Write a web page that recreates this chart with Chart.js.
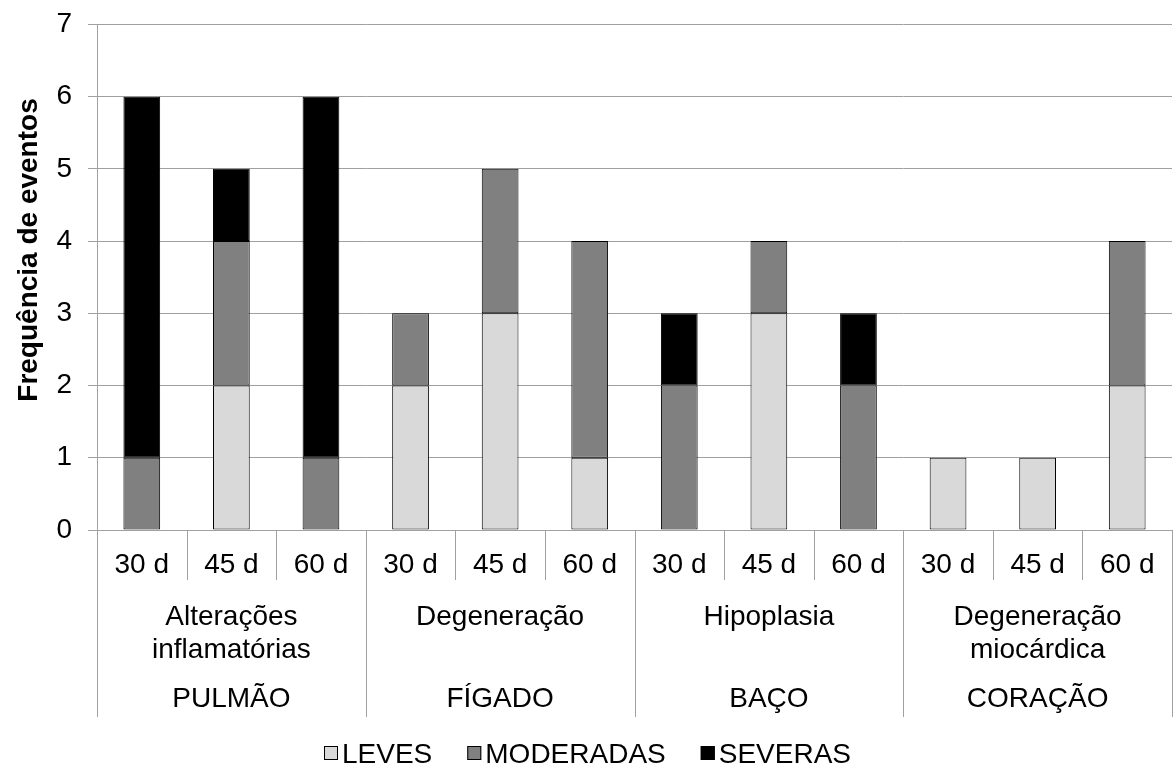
<!DOCTYPE html>
<html>
<head>
<meta charset="utf-8">
<script src="https://cdn.jsdelivr.net/npm/chart.js@4/dist/chart.umd.min.js"></script>
<style>
  html, body { margin: 0; padding: 0; background: #fff; }
  #wrap { width: 1176px; height: 767px; }
</style>
</head>
<body>
<div id="wrap"><canvas id="chart"></canvas></div>
<script>
// periods per lesion
const periods = ['30 d', '45 d', '60 d', '30 d', '45 d', '60 d', '30 d', '45 d', '60 d', '30 d', '45 d', '60 d'];
const lesions = [['Alterações', 'inflamatórias'], ['Degeneração'], ['Hipoplasia'], ['Degeneração', 'miocárdica']];
const organs = ['PULMÃO', 'FÍGADO', 'BAÇO', 'CORAÇÃO'];

const leves = [0, 2, 0, 2, 3, 1, 0, 3, 0, 1, 1, 2];
const moderadas = [1, 2, 1, 1, 2, 3, 2, 1, 2, 0, 0, 2];
const severas = [5, 1, 5, 0, 0, 0, 1, 0, 1, 0, 0, 0];

const seriesNames = ['LEVES', 'MODERADAS', 'SEVERAS'];
const seriesColors = ['#d9d9d9', '#808080', '#000000'];

const FONT = "'Liberation Sans', Arial, sans-serif";
const GRID = '#a0a0a0';

Chart.defaults.font.family = FONT;
Chart.defaults.color = '#000';

// multi-level category axis, y title and legend
const decorations = {
    id: 'decorations',
    afterDraw(chart) {
        const ctx = chart.ctx;
        const x = chart.scales.x;
        const area = chart.chartArea;
        const half = (x.getPixelForValue(1) - x.getPixelForValue(0)) / 2;

        ctx.save();
        ctx.strokeStyle = GRID;
        ctx.lineWidth = 1;
        for (let i = 0; i <= periods.length; i++) {
            const px = Math.round(x.getPixelForValue(0) - half + i * 2 * half) + 0.5;
            const end = i % 3 === 0 ? 717 : 580;
            ctx.beginPath();
            ctx.moveTo(px, area.bottom);
            ctx.lineTo(px, end);
            ctx.stroke();
        }

        ctx.fillStyle = '#000';
        ctx.font = '28px ' + FONT;
        ctx.textAlign = 'center';
        ctx.textBaseline = 'middle';
        lesions.forEach((lines, g) => {
            const cx = x.getPixelForValue(g * 3 + 1);
            lines.forEach((t, k) => ctx.fillText(t, cx, 617 + k * 33));
            ctx.fillText(organs[g], cx, 699);
        });

        // y axis title
        ctx.save();
        ctx.translate(29, 250);
        ctx.rotate(-Math.PI / 2);
        ctx.font = 'bold 28px ' + FONT;
        ctx.fillText('Frequência de eventos', 0, 0);
        ctx.restore();

        // legend
        const box = 14, gap = 4, space = 35, ly = 753;
        ctx.font = '28px ' + FONT;
        const widths = seriesNames.map(n => box + gap + ctx.measureText(n).width);
        const total = widths.reduce((a, b) => a + b, 0) + space * (widths.length - 1);
        let lx = Math.round(chart.width / 2 - total / 2);
        ctx.textAlign = 'left';
        seriesNames.forEach((n, i) => {
            ctx.fillStyle = seriesColors[i];
            ctx.fillRect(lx, ly - box / 2, box, box);
            ctx.strokeStyle = '#000';
            ctx.strokeRect(lx + 0.5, ly - box / 2 + 0.5, box - 1, box - 1);
            ctx.fillStyle = '#000';
            ctx.fillText(n, lx + box + gap, ly + 2);
            lx += widths[i] + space;
        });
        ctx.restore();
    }
};

new Chart(document.getElementById('chart'), {
    type: 'bar',
    data: {
        labels: periods,
        datasets: [leves, moderadas, severas].map((d, i) => ({
            label: seriesNames[i],
            data: d,
            backgroundColor: seriesColors[i],
            borderColor: '#000',
            borderWidth: 1,
            borderSkipped: false,
            barPercentage: 1,
            categoryPercentage: 0.41
        }))
    },
    options: {
        responsive: true,
        maintainAspectRatio: false,
        animation: false,
        layout: { padding: { top: 19, right: 4, left: 0, bottom: 0 } },
        scales: {
            x: {
                stacked: true,
                grid: { display: false },
                border: { display: false },
                ticks: { font: { size: 28 }, color: '#000', padding: 10, maxRotation: 0 },
                afterFit: s => { s.height = 237; }
            },
            y: {
                stacked: true,
                min: 0,
                max: 7,
                ticks: { stepSize: 1, font: { size: 28, lineHeight: 0.6 }, color: '#000', padding: 16 },
                grid: { color: GRID, tickLength: 9 },
                border: { color: GRID },
                afterFit: s => { s.width = 97; }
            }
        },
        plugins: {
            legend: { display: false },
            tooltip: { enabled: false }
        }
    },
    plugins: [decorations]
});
</script>
</body>
</html>
